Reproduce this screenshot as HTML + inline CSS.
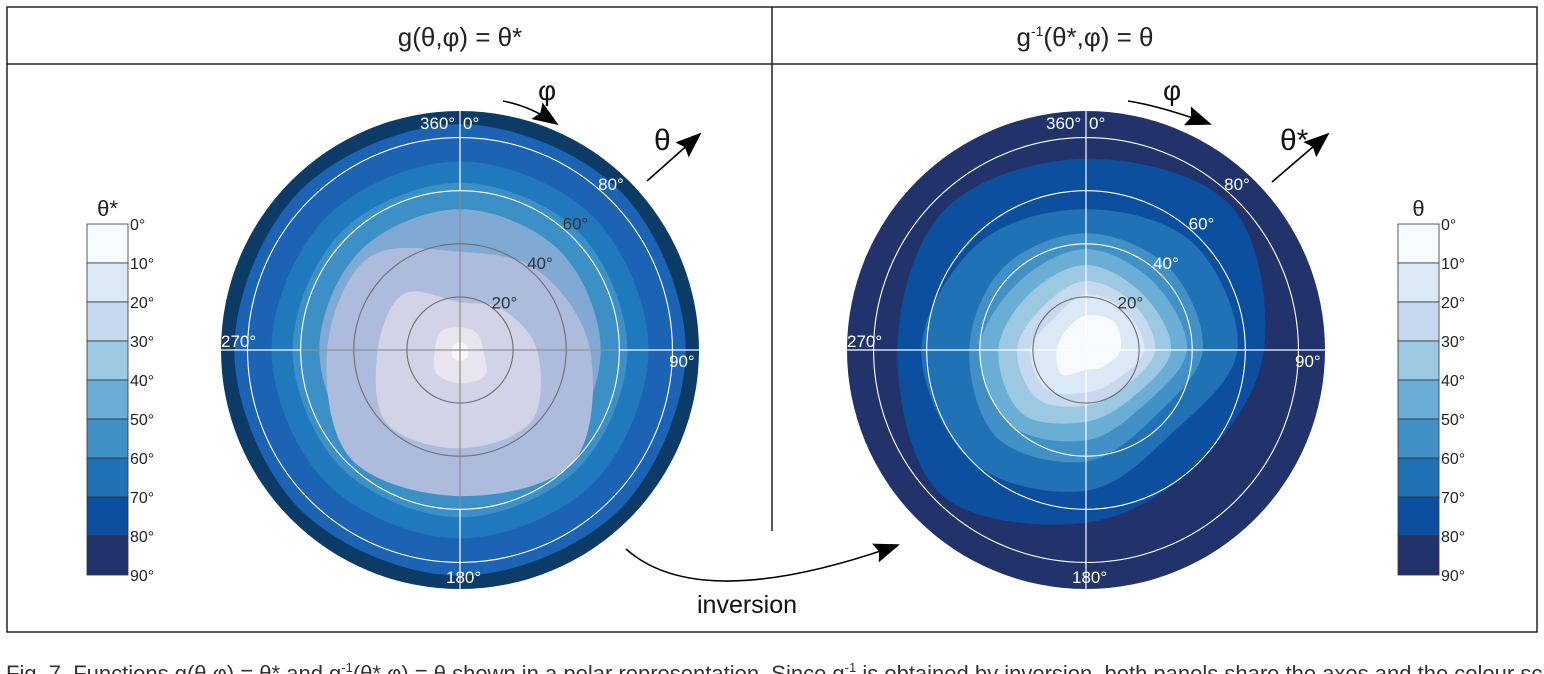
<!DOCTYPE html>
<html><head><meta charset="utf-8">
<style>
html,body{margin:0;padding:0;background:#fff;width:1544px;height:674px;overflow:hidden}
svg{display:block;font-family:"Liberation Sans","DejaVu Sans",sans-serif}
</style></head>
<body>
<svg id="fig" width="1544" height="674" viewBox="0 0 1544 674">
  <rect x="7" y="7" width="1530" height="625" fill="none" stroke="#222" stroke-width="1.5"/>
  <line x1="7" y1="64" x2="1537" y2="64" stroke="#222" stroke-width="1.5"/>
  <line x1="772" y1="7" x2="772" y2="531" stroke="#222" stroke-width="1.5"/>
  <text x="460" y="46" font-size="26" text-anchor="middle" fill="#222">g(θ,φ) = θ*</text>
  <text x="1085" y="46" font-size="26" text-anchor="middle" fill="#222">g<tspan font-size="14" dy="-10">-1</tspan><tspan dy="10">(θ*,φ) = θ</tspan></text>
  <g id="plots"></g>
  <text x="6" y="681" font-size="22" fill="#333">Fig. 7. Functions g(θ,φ) = θ* and g<tspan font-size="13" dy="-9">-1</tspan><tspan dy="9">(θ*,φ) = θ shown in a polar representation. Since g</tspan><tspan font-size="13" dy="-9">-1</tspan><tspan dy="9"> is obtained by inversion, both panels share the axes and the colour scale used for θ.</tspan></text>
</svg>
<script>
// ---- data ----
const levels = [80, 70, 60, 50, 40, 30, 20, 10];              // contour level (deg)
const directions = [0, 45, 90, 135, 180, 225, 270, 315];       // phi of sampled radii (deg)
// radius of each contour level (expressed in theta degrees) along each direction
const leftContours = [
  [85, 85, 85, 85, 85, 85, 85, 85],
  [71, 71, 71, 71, 71, 71, 71, 71],
  [63, 63, 63, 63, 63, 63, 63, 63],
  [53, 53, 53, 53, 53, 53, 53, 53],
  [37, 42, 49, 60, 55, 58, 50, 49],
  [18, 22, 29, 38, 37, 39, 31, 30],
  [8.5, 9, 8.7, 13.5, 12.5, 12.5, 9.5, 10],
  [3, 3, 3, 4, 4, 4, 3, 3]
];
const rightContours = [
  [72, 77, 67, 60, 65, 77, 71, 75],
  [53, 57, 57, 45, 53, 60, 62, 57],
  [44, 44, 44, 36, 42, 47, 44, 44],
  [38, 36, 38, 30, 34, 40, 40, 36],
  [32, 30, 32, 25, 27, 34, 33, 30],
  [26, 25, 26, 20, 21, 26, 26, 23],
  [21, 21, 22, 16, 16, 21, 21, 17],
  [13, 15, 13, 9, 7.5, 13, 11, 10.5]
];
const leftFill = ["#f9f5f9","#e8e5f1","#d3d3e7","#adbcdc","#80a9d3","#3d90c6","#2078bd","#1c63b3","#0d3b68"];
const barColors = ["#f7fbff","#dbe8f6","#c6d9ee","#9dc8e1","#6aaed6","#4191c6","#2171b5","#0c4f9e","#22336b"];
const barTicks = ["0°","10°","20°","30°","40°","50°","60°","70°","80°","90°"];
const ringValues = [20, 40, 60, 80];
const R = 239, THMAX = 90;

const NS = "http://www.w3.org/2000/svg";
const root = document.getElementById('plots');
function mk(tag, attrs, parent){ const e=document.createElementNS(NS,tag); for(const k in attrs) e.setAttribute(k,attrs[k]); (parent||root).appendChild(e); return e; }
function rScale(th){ return th / THMAX * R; }
function pt(cx, cy, phi, th){ const a=phi*Math.PI/180, r=rScale(th); return [cx + r*Math.sin(a), cy - r*Math.cos(a)]; }
function smoothPath(p){
  const n=p.length; let d=`M${p[0][0].toFixed(1)},${p[0][1].toFixed(1)}`;
  for(let i=0;i<n;i++){
    const p0=p[(i-1+n)%n],p1=p[i],p2=p[(i+1)%n],p3=p[(i+2)%n];
    const c1=[p1[0]+(p2[0]-p0[0])/6,p1[1]+(p2[1]-p0[1])/6];
    const c2=[p2[0]-(p3[0]-p1[0])/6,p2[1]-(p3[1]-p1[1])/6];
    d+=`C${c1[0].toFixed(1)},${c1[1].toFixed(1)} ${c2[0].toFixed(1)},${c2[1].toFixed(1)} ${p2[0].toFixed(1)},${p2[1].toFixed(1)}`;
  }
  return d+'Z';
}

function polar(cx, cy, contours, fills, side, innerGray){
  const g = mk('g', {});
  
  
  const bg = mk('circle', {cx, cy, r:R, fill:fills[fills.length-1]}, g);
  
  
  contours.forEach((row, i) => {
    const pts = row.map((th, j) => pt(cx, cy, directions[j], Math.min(th, THMAX)));
    const p = mk('path', {d:smoothPath(pts), fill:fills[fills.length-2-i]}, g);
    
    
  });
  const axes = [[cx-R, cy, cx+R, cy],[cx, cy-R, cx, cy+R]];
  axes.forEach((a, i) => {
    const l = mk('line', {x1:a[0], y1:a[1], x2:a[2], y2:a[3], stroke:'#fff', 'stroke-width':1.2}, g);
    
    
  });
  if (innerGray){
    const r = rScale(60);
    const l1 = mk('line', {x1:cx-r, y1:cy, x2:cx+r, y2:cy, stroke:'#777', 'stroke-width':1}, g);
    
    
    const l2 = mk('line', {x1:cx, y1:cy-r, x2:cx, y2:cy+r, stroke:'#777', 'stroke-width':1}, g);
    
    
  }
  ringValues.forEach(v => {
    const dark = innerGray ? v <= 40 : v <= 20;
    const c = mk('circle', {cx, cy, r:rScale(v), fill:'none', stroke: dark ? '#6f6f6f' : '#fff', 'stroke-width':1.1}, g);
    
    
    const p = pt(cx, cy, 42, v);
    const darkText = innerGray ? v <= 60 : v <= 20;
    const t = mk('text', {x:p[0]-4, y:p[1]-2, 'font-size':17, fill: darkText ? '#333' : '#fff'}, g);
    t.textContent = v + '°';
    
    
  });
  const labs = [["360°", cx-40, cy-221],["0°", cx+3, cy-221],["90°", cx+209, cy+17],["180°", cx-14, cy+233],["270°", cx-239, cy-3]];
  labs.forEach(L => {
    const t = mk('text', {x:L[1], y:L[2], 'font-size':17, fill:'#fff'}, g);
    t.textContent = L[0];
    
    
  });
}

function colorbar(x, y0, title, side){
  const w = 41, h = 39;
  const g = mk('g', {});
  
  
  barColors.forEach((c, i) => {
    const r = mk('rect', {x, y:y0+i*h, width:w, height:h, fill:c, stroke:'#333', 'stroke-width':0.8}, g);
    
    
  });
  barTicks.forEach((s, i) => {
    const t = mk('text', {x:x+w+2, y:y0+i*h+6, 'font-size':16, fill:'#222'}, g);
    t.textContent = s;
    
    
  });
  const tt = mk('text', {x:x+w/2, y:y0-8, 'font-size':22, 'text-anchor':'middle', fill:'#222'}, g);
  tt.textContent = title;
  
  
}

polar(460, 350, leftContours, leftFill, 'left', true);
polar(1086, 350, rightContours, barColors, 'right', false);
colorbar(87, 224, 'θ*', 'left');
colorbar(1398, 224, 'θ', 'right');

const defs = mk('defs', {});
const mar2 = mk('marker', {id:'ah2', markerWidth:26, markerHeight:20, refX:24, refY:10, orient:'auto', markerUnits:'userSpaceOnUse'}, defs);
mk('path', {d:'M0,0 L26,10 L0,20 L4,10 Z', fill:'#000'}, mar2);
function arrow(d, name){
  const p = mk('path', {d, fill:'none', stroke:'#000', 'stroke-width':1.6, 'marker-end':'url(#ah2)'});
  
  
}
function label(x, y, s, size, name, italic){
  const t = mk('text', {x, y, 'font-size':size, fill:'#111', 'font-style': italic ? 'italic' : 'normal'});
  t.textContent = s;
  
  
}
arrow('M503,101 Q530,106 557,124', 'left-phi-arrow');
label(538, 100, 'φ', 28, 'left-phi-symbol');
arrow('M647,181 L700,134', 'left-theta-arrow');
label(654, 150, 'θ', 30, 'left-theta-symbol');
arrow('M1128,101 Q1160,106 1210,124', 'right-phi-arrow');
label(1163, 100, 'φ', 28, 'right-phi-symbol');
arrow('M1272,182 L1328,134', 'right-theta-arrow');
label(1280, 150, 'θ*', 30, 'right-theta-symbol');
arrow('M626,549 Q700,615 898,545', 'inversion-arrow');
label(697, 613, 'inversion', 25, 'inversion-label');
</script>
</body></html>
